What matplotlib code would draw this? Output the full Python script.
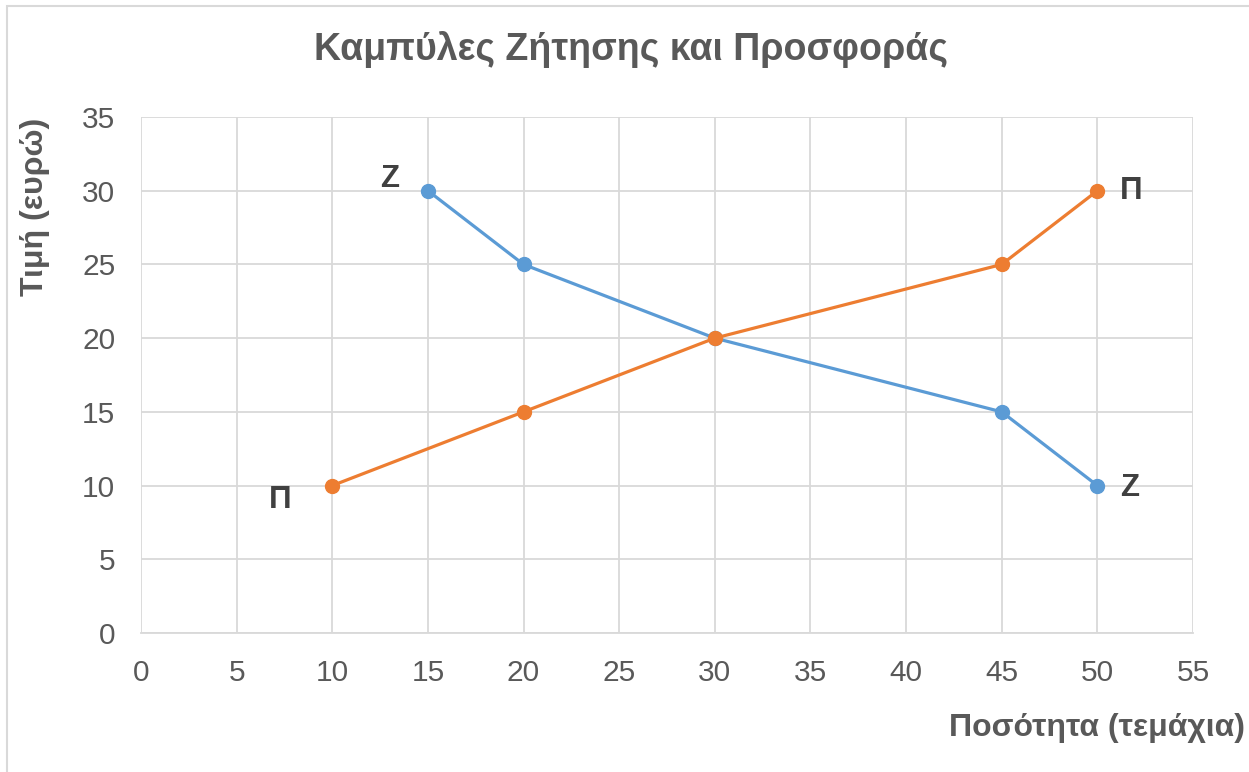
import matplotlib
matplotlib.use("Agg")
import matplotlib.pyplot as plt
from matplotlib.patches import Rectangle

# Data
demand_q = [15, 20, 30, 45, 50]
demand_p = [30, 25, 20, 15, 10]
supply_q = [10, 20, 30, 45, 50]
supply_p = [10, 15, 20, 25, 30]
x_ticks = [0, 5, 10, 15, 20, 25, 30, 35, 40, 45, 50, 55]
y_ticks = [0, 5, 10, 15, 20, 25, 30, 35]

title = "Καμπύλες Ζήτησης και Προσφοράς"
xlabel = "Ποσότητα (τεμάχια)"
ylabel = "Τιμή (ευρώ)"

plt.rcParams['font.family'] = ['Liberation Sans', 'DejaVu Sans']

W, H = 1249, 772
fig = plt.figure(figsize=(W / 100, H / 100), dpi=100)
fig.patch.set_facecolor('white')

# outer chart border (top and left visible)
fig.add_artist(Rectangle((7 / W, -0.05), 1.1, 1 - 6 / H + 0.05,
                         transform=fig.transFigure, fill=False,
                         edgecolor='#D9D9D9', linewidth=1.5))

ax = fig.add_axes([141 / W, 1 - 633 / H, (1193 - 141) / W, (633 - 117) / H])
ax.set_xlim(0, 55)
ax.set_ylim(0, 35)
ax.set_xticks(x_ticks)
ax.set_yticks(y_ticks)
ax.grid(True, color='#D9D9D9', linewidth=1.3)
ax.set_axisbelow(True)
for s in ['top', 'right', 'left']:
    ax.spines[s].set_visible(False)
ax.spines['bottom'].set_color('#D9D9D9')
ax.spines['bottom'].set_linewidth(1.3)
ax.tick_params(length=0, labelsize=21.5, labelcolor='#595959')
ax.tick_params(axis='x', pad=19)
ax.tick_params(axis='y', pad=18.5)

blue = '#5B9BD5'
orange = '#ED7D31'
ax.plot(demand_q, demand_p, color=blue, linewidth=2.3, marker='o',
        markersize=10, zorder=3, clip_on=False)
ax.plot(supply_q, supply_p, color=orange, linewidth=2.3, marker='o',
        markersize=10, zorder=3, clip_on=False)

lab_kw = dict(textcoords='offset pixels', ha='center', va='center',
              fontsize=22.5, fontweight='bold', color='#404040')
ax.annotate('Ζ', (demand_q[0], demand_p[0]), xytext=(-38, 12), **lab_kw)
ax.annotate('Ζ', (demand_q[-1], demand_p[-1]), xytext=(32, -2), **lab_kw)
ax.annotate('Π', (supply_q[0], supply_p[0]), xytext=(-52, -14), **lab_kw)
ax.annotate('Π', (supply_q[-1], supply_p[-1]), xytext=(34, 0), **lab_kw)

fig.text(631 / W, 1 - 50 / H, title, ha='center', va='center',
         fontsize=27, fontweight='bold', color='#595959')
fig.text(1245 / W, 1 - 728 / H, xlabel, ha='right', va='center',
         fontsize=23, fontweight='bold', color='#595959')
fig.text(35 / W, 1 - 118 / H, ylabel, ha='center', va='top', rotation=90,
         fontsize=23, fontweight='bold', color='#595959')

fig.savefig('out.png', dpi=100)
